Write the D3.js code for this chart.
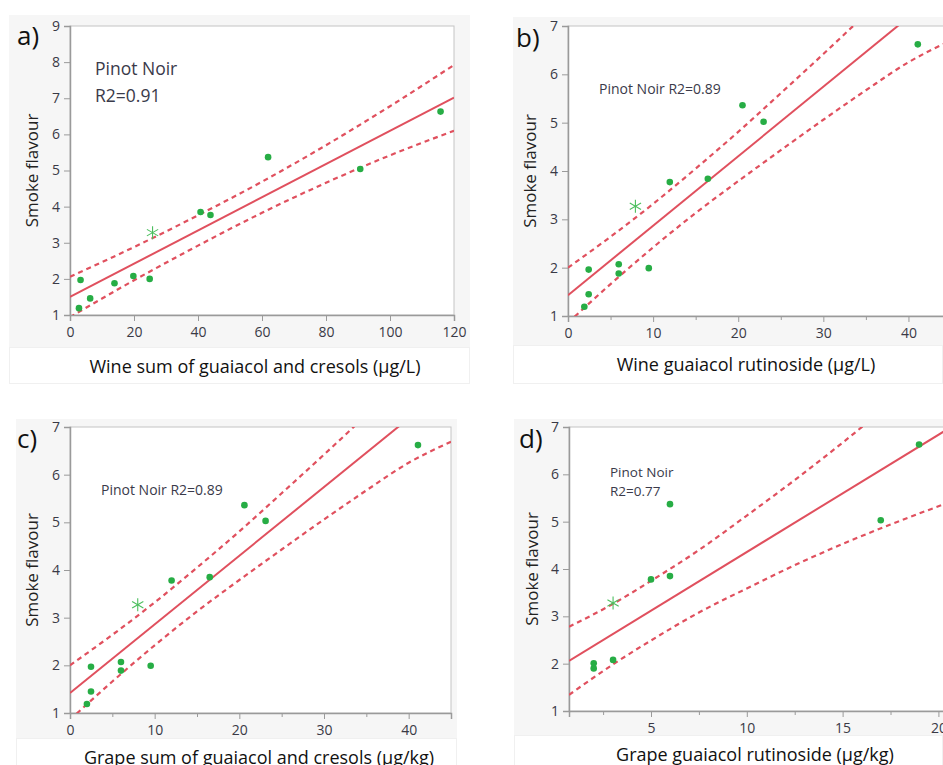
<!DOCTYPE html>
<html>
<head>
<meta charset="utf-8">
<script src="https://cdn.jsdelivr.net/npm/d3@7"></script>
<style>
  body { margin: 0; background: #fff; }
  svg text { font-family: "Open Sans", "Noto Sans", sans-serif; }
</style>
</head>
<body>
<div id="chart"></div>
<script>
// Panel a: wine sum of guaiacol and cresols
const aX = [2.8, 3.3, 6.3, 13.9, 19.8, 24.9, 40.8, 43.9, 61.9, 90.7, 115.8];
const aY = [1.19, 1.97, 1.46, 1.88, 2.08, 2.00, 3.85, 3.77, 5.37, 5.04, 6.63];
const aStar = [25.8, 3.28];
const aFitX = [0, 120];
const aFitY = [1.5, 7.02];
const aBandX = [0, 20, 40, 60, 80, 100, 120];
const aUpper = [2.06, 2.88, 3.76, 4.69, 5.70, 6.78, 7.92];
const aLower = [0.94, 1.96, 2.92, 3.83, 4.66, 5.42, 6.10];

// Panel b: wine guaiacol rutinoside
const bX = [1.92, 2.43, 2.43, 5.96, 5.96, 9.49, 11.96, 16.43, 20.5, 22.98, 41.1];
const bY = [1.19, 1.45, 1.96, 1.88, 2.07, 1.99, 3.77, 3.84, 5.36, 5.02, 6.62];
const bStar = [7.92, 3.27];
const bFitX = [0, 45];
const bFitY = [1.43, 7.90];
const bBandX = [0, 5, 10, 15, 20, 25, 30, 35, 40, 45];
const bUpper = [2.00, 2.64, 3.32, 4.05, 4.81, 5.61, 6.42, 7.25, 8.09, 8.95];
const bLower = [0.86, 1.66, 2.42, 3.13, 3.79, 4.43, 5.06, 5.67, 6.25, 6.70];

// Panel c: grape sum of guaiacol and cresols
const cX = [2.0, 2.48, 2.48, 6.02, 6.02, 9.53, 12.0, 16.5, 20.6, 23.1, 41.1];
const cY = [1.19, 1.45, 1.97, 1.89, 2.07, 1.99, 3.78, 3.85, 5.36, 5.03, 6.62];
const cStar = [8.0, 3.27];
const cFitX = [0, 45];
const cFitY = [1.42, 7.90];
const cBandX = [0, 5, 10, 15, 20, 25, 30, 35, 40, 45];
const cUpper = [2.00, 2.64, 3.32, 4.05, 4.81, 5.61, 6.42, 7.25, 8.09, 8.95];
const cLower = [0.86, 1.66, 2.42, 3.13, 3.79, 4.43, 5.06, 5.67, 6.25, 6.69];

// Panel d: grape guaiacol rutinoside
const dX = [2.01, 2.01, 3.02, 5.0, 5.99, 5.99, 16.99, 18.99];
const dY = [2.01, 1.90, 2.08, 3.78, 3.85, 5.37, 5.03, 6.63];
const dStar = [3.02, 3.28];
const dFitX = [0.72, 20.5];
const dFitY = [2.06, 6.96];
const dBandX = [0.72, 3, 5, 7.5, 10, 12.5, 15, 17.5, 20.5];
const dUpper = [2.78, 3.26, 3.75, 4.40, 5.13, 5.88, 6.67, 7.50, 8.52];
const dLower = [1.34, 1.98, 2.49, 3.08, 3.59, 4.08, 4.53, 4.94, 5.40];

// Tick labels
const aXTicks = [0, 20, 40, 60, 80, 100, 120];
const aYTicks = [1, 2, 3, 4, 5, 6, 7, 8, 9];
const bcXTicks = [0, 10, 20, 30, 40];
const bcXMinor = [5, 15, 25, 35, 45];
const dXTicks = [5, 10, 15, 20];
const dXMinor = [2.5, 7.5, 12.5, 17.5];
const smallYTicks = [1, 2, 3, 4, 5, 6, 7];

const RED = "#e0505e";
const GREEN = "#27ad45";

const svg = d3.select("#chart").append("svg")
  .attr("width", 943)
  .attr("height", 765);

function drawPanel(p, i) {
  const g = svg.append("g");

  // grey panel + white label strip
  g.append("rect").attr("x", p.bg[0]).attr("y", p.bg[1])
    .attr("width", p.bg[2] - p.bg[0]).attr("height", p.bg[3] - p.bg[1])
    .attr("fill", "#f6f6f6");
  g.append("rect").attr("x", p.bg[0] + 0.5).attr("y", p.bg[3] + 0.5)
    .attr("width", p.bg[2] - p.bg[0] - 1).attr("height", p.labBottom - p.bg[3])
    .attr("fill", "#fff").attr("stroke", "#f0f0f0");

  const x = d3.scaleLinear().domain(p.xDomain).range([p.left, p.right]);
  const y = d3.scaleLinear().domain(p.yDomain).range([p.bottom, p.top]);

  // plot area
  g.append("rect").attr("x", p.left).attr("y", p.top)
    .attr("width", p.right - p.left).attr("height", p.bottom - p.top)
    .attr("fill", "#fff").attr("stroke", "#c4c4c4");

  const clipId = "clip" + i;
  g.append("clipPath").attr("id", clipId).append("rect")
    .attr("x", p.left).attr("y", p.top)
    .attr("width", p.right - p.left).attr("height", p.bottom - p.top);

  // axes
  g.append("g").attr("transform", `translate(0,${p.bottom})`)
    .call(d3.axisBottom(x).tickValues(p.xTicks).tickSize(6).tickPadding(6).tickFormat(d3.format("d")));
  if (p.xMinor) {
    g.append("g").attr("transform", `translate(0,${p.bottom})`)
      .call(d3.axisBottom(x).tickValues(p.xMinor).tickSize(4).tickFormat(""))
      .select(".domain").remove();
  }
  g.append("g").attr("transform", `translate(${p.left},0)`)
    .call(d3.axisLeft(y).tickValues(p.yTicks).tickSize(6).tickPadding(4).tickFormat(d3.format("d")));

  g.selectAll(".domain").attr("stroke", "#9a9a9a").attr("stroke-width", 1.5);
  g.selectAll(".tick line").attr("stroke", "#9a9a9a");
  g.selectAll(".tick text").attr("fill", "#3a3a46").attr("font-size", 14);

  const plot = g.append("g").attr("clip-path", `url(#${clipId})`);

  const line = d3.line().x(d => x(d[0])).y(d => y(d[1])).curve(d3.curveMonotoneX);

  // confidence bands
  [p.upper, p.lower].forEach(band => {
    plot.append("path")
      .datum(p.bandX.map((v, k) => [v, band[k]]))
      .attr("d", line)
      .attr("fill", "none")
      .attr("stroke", RED)
      .attr("stroke-width", 2.2)
      .attr("stroke-dasharray", "5,4");
  });

  // fit line
  plot.append("path")
    .datum(p.fitX.map((v, k) => [v, p.fitY[k]]))
    .attr("d", d3.line().x(d => x(d[0])).y(d => y(d[1])))
    .attr("fill", "none")
    .attr("stroke", RED)
    .attr("stroke-width", 2);

  // points
  plot.selectAll("circle")
    .data(p.xs.map((v, k) => [v, p.ys[k]]))
    .join("circle")
    .attr("cx", d => x(d[0]))
    .attr("cy", d => y(d[1]))
    .attr("r", 3.3)
    .attr("fill", GREEN);

  // excluded point as asterisk
  const sx = x(p.star[0]), sy = y(p.star[1]);
  [0, 60, 120].forEach(a => {
    const r = 6.5, t = a * Math.PI / 180;
    plot.append("line")
      .attr("x1", sx - r * Math.sin(t)).attr("y1", sy - r * Math.cos(t))
      .attr("x2", sx + r * Math.sin(t)).attr("y2", sy + r * Math.cos(t))
      .attr("stroke", "#4cbf5e").attr("stroke-width", 1.1);
  });

  // panel letter
  g.append("text").attr("x", p.letterPos[0]).attr("y", p.letterPos[1])
    .attr("font-size", 26).attr("fill", "#111").text(p.letter);

  // annotation
  p.note.forEach((t, k) => {
    g.append("text").attr("x", p.notePos[0]).attr("y", p.notePos[1] + k * p.noteGap)
      .attr("font-size", p.noteSize).attr("fill", "#3a3a4a").text(t);
  });

  // axis titles
  g.append("text")
    .attr("transform", `translate(${p.yTitleX},${(p.top + p.bottom) / 2}) rotate(-90)`)
    .attr("text-anchor", "middle").attr("font-size", 17).attr("fill", "#222")
    .text("Smoke flavour");
  g.append("text")
    .attr("x", p.xTitlePos[0]).attr("y", p.xTitlePos[1])
    .attr("text-anchor", "middle").attr("font-size", 18).attr("fill", "#111")
    .text(p.xTitle);
}

const panels = [
  {
    bg: [9, 15, 470, 347], labBottom: 383,
    left: 70, right: 454, top: 26, bottom: 315,
    xDomain: [0, 120], yDomain: [1, 9], xTicks: aXTicks, yTicks: aYTicks,
    xs: aX, ys: aY, star: aStar, fitX: aFitX, fitY: aFitY,
    bandX: aBandX, upper: aUpper, lower: aLower,
    letter: "a)", letterPos: [17, 45],
    note: ["Pinot Noir", "R2=0.91"], notePos: [95, 75], noteGap: 27, noteSize: 17.5,
    yTitleX: 38, xTitle: "Wine sum of guaiacol and cresols (µg/L)", xTitlePos: [255, 373]
  },
  {
    bg: [513, 17, 943, 345], labBottom: 383,
    left: 568, right: 951, top: 26, bottom: 316,
    xDomain: [0, 45], yDomain: [1, 7], xTicks: bcXTicks, xMinor: bcXMinor, yTicks: smallYTicks,
    xs: bX, ys: bY, star: bStar, fitX: bFitX, fitY: bFitY,
    bandX: bBandX, upper: bUpper, lower: bLower,
    letter: "b)", letterPos: [516, 47],
    note: ["Pinot Noir R2=0.89"], notePos: [599, 94], noteGap: 0, noteSize: 14,
    yTitleX: 536, xTitle: "Wine guaiacol rutinoside (µg/L)", xTitlePos: [746, 371]
  },
  {
    bg: [16, 419, 457, 738], labBottom: 775,
    left: 70, right: 451, top: 427, bottom: 713,
    xDomain: [0, 45], yDomain: [1, 7], xTicks: bcXTicks, xMinor: bcXMinor, yTicks: smallYTicks,
    xs: cX, ys: cY, star: cStar, fitX: cFitX, fitY: cFitY,
    bandX: cBandX, upper: cUpper, lower: cLower,
    letter: "c)", letterPos: [17, 448],
    note: ["Pinot Noir R2=0.89"], notePos: [101, 495], noteGap: 0, noteSize: 14,
    yTitleX: 38, xTitle: "Grape sum of guaiacol and cresols (µg/kg)", xTitlePos: [259, 764]
  },
  {
    bg: [514, 419, 943, 735], labBottom: 775,
    left: 569, right: 948, top: 427, bottom: 711,
    xDomain: [0.72, 20.5], yDomain: [1, 7], xTicks: dXTicks, xMinor: dXMinor, yTicks: smallYTicks,
    xs: dX, ys: dY, star: dStar, fitX: dFitX, fitY: dFitY,
    bandX: dBandX, upper: dUpper, lower: dLower,
    letter: "d)", letterPos: [519, 448],
    note: ["Pinot Noir", "R2=0.77"], notePos: [610, 477], noteGap: 19, noteSize: 13.5,
    yTitleX: 538, xTitle: "Grape guaiacol rutinoside (µg/kg)", xTitlePos: [755, 761]
  }
];

panels.forEach(drawPanel);
</script>
</body>
</html>
